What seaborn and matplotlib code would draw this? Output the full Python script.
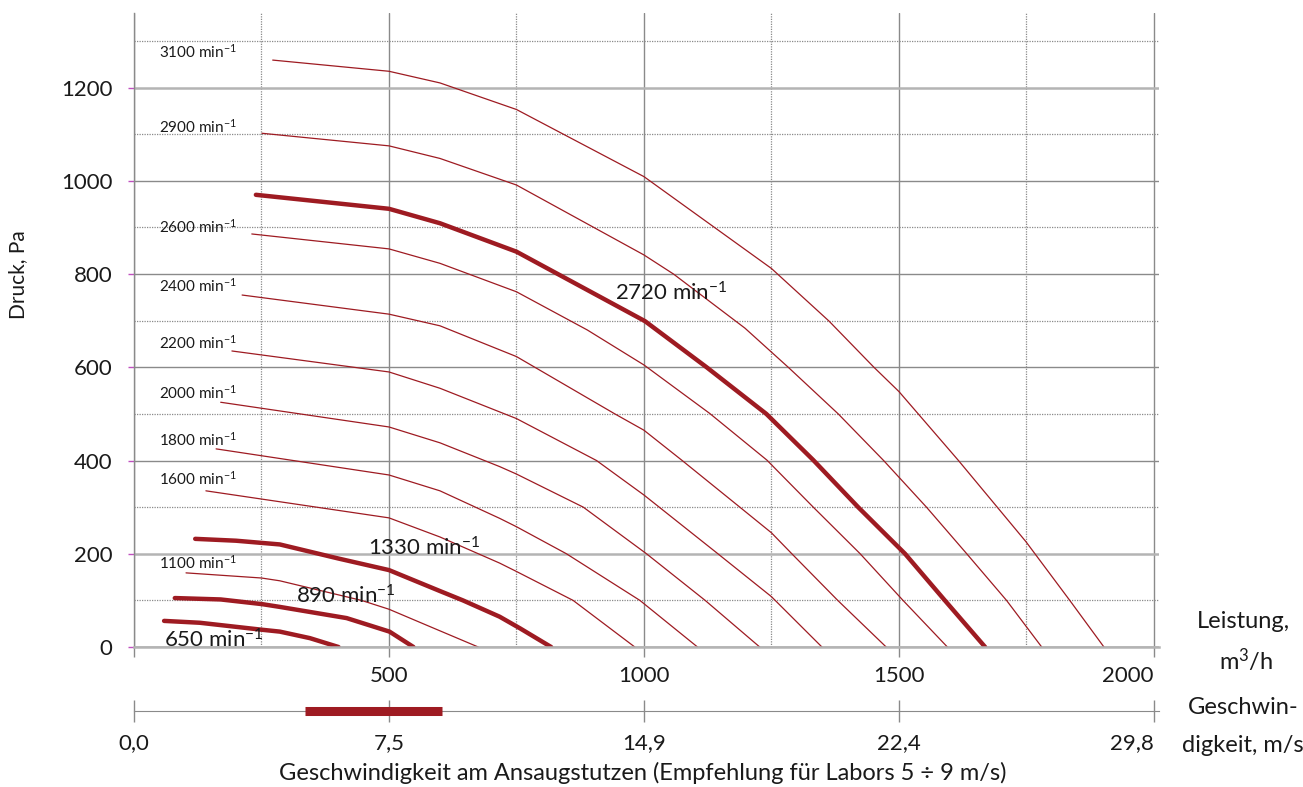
import pandas as pd
import matplotlib.pyplot as plt
import seaborn as sns

# fan curves: flow Q (m3/h) and pressure P (Pa)
q_650 = [59, 129, 251, 286, 345, 401]
p_650 = [56, 52, 37, 33, 19, 0]
q_890 = [80, 170, 251, 286, 417, 501, 548]
p_890 = [105, 102, 92, 86, 62, 33, 0]
q_1100 = [102, 250, 286, 446, 500, 582, 675]
p_1100 = [159, 148, 142, 100, 81, 43, 0]
q_1330 = [120, 200, 286, 400, 500, 600, 645, 717, 757, 818]
p_1330 = [232, 228, 220, 190, 165, 120, 100, 65, 40, 0]
q_1600 = [141, 500, 600, 717, 750, 861, 982]
p_1600 = [335, 277, 236, 180, 162, 100, 0]
q_1800 = [161, 500, 600, 717, 750, 848, 992, 1105]
p_1800 = [425, 369, 335, 276, 258, 200, 100, 0]
q_2000 = [170, 500, 600, 717, 750, 881, 1005, 1120, 1227]
p_2000 = [525, 472, 438, 387, 371, 300, 200, 100, 0]
q_2200 = [192, 500, 600, 750, 907, 1000, 1145, 1250, 1349]
p_2200 = [635, 590, 555, 490, 400, 326, 200, 108, 0]
q_2400 = [212, 500, 600, 750, 943, 1000, 1075, 1188, 1250, 1290, 1380, 1475]
p_2400 = [755, 714, 689, 623, 500, 465, 400, 300, 245, 200, 100, 0]
q_2600 = [231, 500, 600, 750, 889, 1000, 1129, 1241, 1332, 1424, 1508, 1595]
p_2600 = [886, 854, 823, 762, 680, 605, 501, 401, 300, 200, 100, 0]
q_2720 = [239, 500, 600, 750, 1002, 1123, 1240, 1332, 1420, 1512, 1590, 1669]
p_2720 = [970, 940, 909, 848, 699, 600, 500, 401, 300, 200, 100, 0]
q_2900 = [251, 500, 600, 750, 1000, 1058, 1198, 1283, 1381, 1470, 1554, 1633, 1711, 1780]
p_2900 = [1102, 1075, 1048, 991, 841, 800, 684, 600, 500, 400, 300, 200, 100, 0]
q_3100 = [272, 500, 600, 750, 1000, 1250, 1363, 1451, 1500, 1616, 1749, 1835, 1902]
p_3100 = [1259, 1235, 1210, 1153, 1009, 812, 699, 600, 548, 401, 226, 100, 0]

curves = {
    650: (q_650, p_650), 890: (q_890, p_890), 1100: (q_1100, p_1100),
    1330: (q_1330, p_1330), 1600: (q_1600, p_1600), 1800: (q_1800, p_1800),
    2000: (q_2000, p_2000), 2200: (q_2200, p_2200), 2400: (q_2400, p_2400),
    2600: (q_2600, p_2600), 2720: (q_2720, p_2720), 2900: (q_2900, p_2900),
    3100: (q_3100, p_3100),
}
thick_rpm = [650, 890, 1330, 2720]

# labels on the left edge (thin curves)
small_rpm = [3100, 2900, 2600, 2400, 2200, 2000, 1800, 1600, 1100]
small_p = [1276, 1117, 901, 774, 652, 545, 444, 360, 180]
small_q = 49
# big labels near the thick curves
big_rpm = [2720, 1330, 890, 650]
big_q = [943, 459, 318, 59]
big_p = [759, 212, 109, 15]

q_ticks = [0, 500, 1000, 1500, 2000]
q_labels = ["", "500", "1000", "1500", "2000"]
p_ticks = [0, 200, 400, 600, 800, 1000, 1200]
v_per_q = 0.0149
v_labels = ["0,0", "7,5", "14,9", "22,4", "29,8"]
rec_band = [5, 9]  # m/s, Empfehlung

rows = []
for rpm, (qs, ps) in curves.items():
    for q, p in zip(qs, ps):
        rows.append({"rpm": rpm, "Q": q, "P": p, "thick": rpm in thick_rpm})
df = pd.DataFrame(rows)

sns.set_style("white")
plt.rcParams["font.family"] = ["Lato", "DejaVu Sans"]
plt.rcParams["mathtext.fontset"] = "custom"
plt.rcParams["mathtext.rm"] = "Lato"
plt.rcParams["mathtext.it"] = "Lato"

red = "#9e1b22"
txt = "#1a1a1a"
grey = "#8a8a8a"
W, H = 1303, 787
fig = plt.figure(figsize=(W / 100, H / 100), dpi=100)
ax = fig.add_axes([134 / W, 140 / H, 1025 / W, 634 / H])

sns.lineplot(df[~df.thick], x="Q", y="P", units="rpm", estimator=None, sort=False,
             color=red, linewidth=0.9, solid_joinstyle="round", ax=ax)
sns.lineplot(df[df.thick], x="Q", y="P", units="rpm", estimator=None, sort=False,
             color=red, linewidth=3.2, solid_joinstyle="round", ax=ax)

ax.set_xlim(0, 2010)
ax.set_ylim(0, 1360)
ax.set_xticks(q_ticks)
ax.set_xticklabels(q_labels)
ax.set_xticks([250, 750, 1250, 1750], minor=True)
ax.set_yticks(p_ticks)
ax.set_yticks([100, 300, 500, 700, 900, 1100, 1300], minor=True)
ax.set_xlabel("")
ax.set_ylabel("")
ax.set_axisbelow(True)
ax.grid(which="major", axis="both", color=grey, linewidth=1.0)
ax.grid(which="minor", axis="both", color=grey, linewidth=0.9, linestyle=(0, (1, 1)))
for val, gl in zip(p_ticks, ax.yaxis.get_gridlines()):
    if val in (0, 200, 1200):
        gl.set_color("#b4b4b4")
        gl.set_linewidth(1.8)
for s in ["top", "right"]:
    ax.spines[s].set_visible(False)
ax.spines["left"].set_color(grey)
ax.spines["left"].set_linewidth(1.0)
ax.spines["bottom"].set_color("#b4b4b4")
ax.spines["bottom"].set_linewidth(1.8)
ax.tick_params(axis="x", which="major", bottom=True, direction="out", length=7.5,
               width=1.0, color=grey, pad=6, labelsize=16, labelcolor=txt)
ax.tick_params(axis="y", which="major", left=True, direction="out", length=4.5,
               width=1.0, color="#c050c0", pad=11, labelsize=16, labelcolor=txt)
ax.tick_params(which="minor", length=0)
ax.get_xticklabels()[-1].set_ha("right")

for rpm, p in zip(small_rpm, small_p):
    ax.text(small_q, p, f"{rpm} min$^{{-1}}$", fontsize=11, color=txt, va="center", ha="left")
for rpm, q, p in zip(big_rpm, big_q, big_p):
    ax.text(q, p, f"{rpm} min$^{{-1}}$", fontsize=16, color=txt, va="center", ha="left")

# second axis: velocity at the intake
ax2 = fig.add_axes([134 / W, 76 / H, 1025 / W, 0.001])
ax2.set_xlim(0, 2010 * v_per_q)
ax2.set_ylim(-1, 1)
ax2.set_yticks([])
ax2.set_xticks([q * v_per_q for q in q_ticks])
ax2.set_xticklabels(v_labels)
for s in ["top", "right", "left"]:
    ax2.spines[s].set_visible(False)
ax2.spines["bottom"].set_color(grey)
ax2.spines["bottom"].set_position(("data", 0))
ax2.tick_params(axis="x", bottom=True, direction="inout", length=16, width=1.0, color=grey,
                pad=8, labelsize=16, labelcolor=txt)
ax2.get_xticklabels()[-1].set_ha("right")
ax2.plot(rec_band, [0, 0], color=red, linewidth=6.5, solid_capstyle="butt",
         clip_on=False, zorder=5)

fig.text(18 / W, 1 - 275 / H, "Druck, Pa", rotation=90, fontsize=15, color=txt,
         ha="center", va="center")
fig.text(643 / W, 1 - 773 / H,
         "Geschwindigkeit am Ansaugstutzen (Empfehlung für Labors 5 ÷ 9 m/s)",
         fontsize=17, color=txt, ha="center", va="center")
fig.text(1243 / W, 1 - 622 / H, "Leistung,", fontsize=17, color=txt, ha="center", va="center")
fig.text(1246 / W, 1 - 660 / H, "m$^3$/h", fontsize=17, color=txt, ha="center", va="center")
fig.text(1243 / W, 1 - 707 / H, "Geschwin-", fontsize=17, color=txt, ha="center", va="center")
fig.text(1243 / W, 1 - 745 / H, "digkeit, m/s", fontsize=17, color=txt, ha="center", va="center")

fig.savefig("out.png", dpi=100)
